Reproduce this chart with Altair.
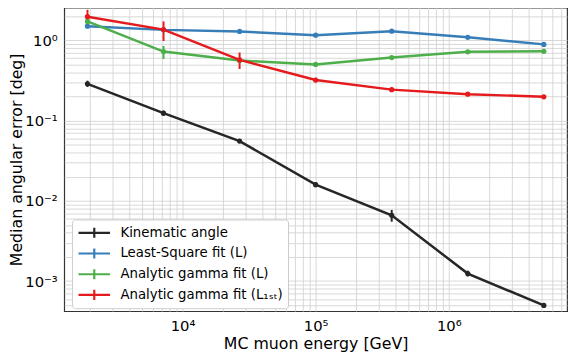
import math
import altair as alt
import pandas as pd

# Bin centres (MC muon energy, GeV)
energy = [1931, 7197, 26827, 100000, 372759, 1389495, 5179475]

series = ["Kinematic angle", "Least-Square fit (L)", "Analytic gamma fit (L)",
          "Analytic gamma fit (L\u2081\u209b\u209c)"]
colors = ["#262626", "#377eb8", "#4daf4a", "#e41a1c"]

kin_val = [0.287, 0.1235, 0.0555, 0.0159, 0.0066, 0.00124, 0.000497]
kin_lo = [0.262, 0.115, 0.0525, 0.0148, 0.0055, 0.00114, 0.000462]
kin_hi = [0.314, 0.133, 0.0588, 0.0171, 0.0077, 0.00135, 0.000535]

ls_val = [1.50, 1.35, 1.29, 1.16, 1.30, 1.09, 0.89]
ls_lo = [1.42, 1.29, 1.24, 1.11, 1.25, 1.05, 0.86]
ls_hi = [1.58, 1.41, 1.34, 1.21, 1.35, 1.13, 0.92]

ag_val = [1.72, 0.725, 0.56, 0.50, 0.61, 0.72, 0.73]
ag_lo = [1.60, 0.585, 0.53, 0.48, 0.58, 0.68, 0.69]
ag_hi = [1.85, 0.85, 0.59, 0.52, 0.64, 0.76, 0.77]

ag1_val = [1.97, 1.36, 0.57, 0.32, 0.243, 0.213, 0.198]
ag1_lo = [1.68, 0.98, 0.44, 0.30, 0.229, 0.205, 0.191]
ag1_hi = [2.40, 1.72, 0.705, 0.34, 0.258, 0.221, 0.205]

rows = []
for name, v, lo, hi in zip(series,
                           [kin_val, ls_val, ag_val, ag1_val],
                           [kin_lo, ls_lo, ag_lo, ag1_lo],
                           [kin_hi, ls_hi, ag_hi, ag1_hi]):
    for e, a, b, c in zip(energy, v, lo, hi):
        rows.append({"series": name, "E": e, "val": a, "lo": b, "hi": c})
df = pd.DataFrame(rows)

sup = {"-": "\u207b", "0": "\u2070", "1": "\u00b9", "2": "\u00b2", "3": "\u00b3",
       "4": "\u2074", "5": "\u2075", "6": "\u2076", "7": "\u2077", "8": "\u2078", "9": "\u2079"}


def log_ticks(e0, e1, lo, hi):
    vals = []
    for e in range(e0, e1 + 1):
        for m in range(1, 10):
            v = m * 10.0 ** e
            if lo <= v <= hi:
                vals.append(v)
    return vals


def label_expr(e0, e1):
    ex = "round(log(datum.value)/LN10)"
    parts = []
    for e in range(e0, e1 + 1):
        s = "10" + "".join(sup[c] for c in str(e))
        parts.append(f"{ex} == {e} ? '{s}'")
    cond = " : ".join(parts) + " : ''"
    return f"abs(log(datum.value)/LN10 - {ex}) < 0.001 ? ({cond}) : ''"


xdom = [10 ** 3.111, 10 ** 6.889]
ydom = [10 ** -3.375, 10 ** 0.409]

xscale = alt.Scale(type="log", domain=xdom, nice=False)
yscale = alt.Scale(type="log", domain=ydom, nice=False)

xaxis = alt.Axis(values=log_ticks(3, 7, xdom[0], xdom[1]), labelExpr=label_expr(3, 7),
                 title="MC muon energy [GeV]", labelOverlap=False, labelFlush=False,
                 titleX=255, titleY=33, titleBaseline="middle", titleAlign="center")
yaxis = alt.Axis(values=log_ticks(-4, 1, ydom[0], ydom[1]), labelExpr=label_expr(-4, 1),
                 title="Median angular error [deg]", labelOverlap=False,
                 titleX=-48, titleY=154, titleBaseline="middle", titleAlign="center")

color = alt.Color("series:N", scale=alt.Scale(domain=series, range=colors),
                  legend=alt.Legend(title=None, orient="none", legendX=8, legendY=215,
                                    symbolType="M-1,0L1,0M0,-0.32L0,0.32",
                                    symbolSize=1024, symbolStrokeWidth=2.2,
                                    clipHeight=17, rowPadding=4, labelOffset=9,
                                    labelFontSize=13.5, labelColor="black",
                                    fillColor="white", strokeColor="#cccccc",
                                    cornerRadius=3, padding=5, labelLimit=300))

base = alt.Chart(df)

lines = base.mark_line(strokeWidth=2.5).encode(
    x=alt.X("E:Q", scale=xscale, axis=xaxis),
    y=alt.Y("val:Q", scale=yscale, axis=yaxis),
    color=color,
    detail="series:N",
)

bars = base.mark_rule(strokeWidth=2).encode(
    x=alt.X("E:Q", scale=xscale),
    y=alt.Y("lo:Q", scale=yscale),
    y2="hi:Q",
    color=alt.Color("series:N", scale=alt.Scale(domain=series, range=colors), legend=None),
)

pts = base.mark_point(filled=True, size=28, opacity=1).encode(
    x=alt.X("E:Q", scale=xscale),
    y=alt.Y("val:Q", scale=yscale),
    color=alt.Color("series:N", scale=alt.Scale(domain=series, range=colors), legend=None),
)

chart = alt.layer(lines, bars, pts).properties(
    width=510, height=308,
    autosize=alt.AutoSizeParams(type="none"),
    padding={"left": 57, "top": -3, "right": 6, "bottom": 46},
).configure(font="DejaVu Sans").configure_view(
    stroke="#333333", strokeWidth=1.2
).configure_axis(
    grid=True, gridColor="#cfcfcf", gridWidth=0.8, domain=False,
    tickSize=0, labelFontSize=15, labelColor="black",
    titleFontSize=16, titleFontWeight="normal", titleColor="black",
).configure_axisX(labelPadding=8).configure_axisY(labelPadding=7)

chart.save("out.html", embed_options={"renderer": "svg", "actions": False})
